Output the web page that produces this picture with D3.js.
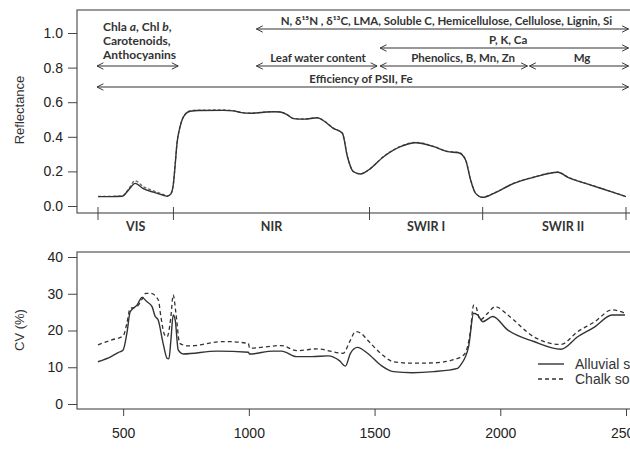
<!DOCTYPE html>
<html>
<head>
<meta charset="utf-8" />
<title>Reflectance and CV</title>
<script src="https://cdn.jsdelivr.net/npm/d3@7"></script>
<style>
	body { margin: 0; background: #fff; }
	svg { display: block; }
	.tick text { font-family: "Liberation Sans", Arial, sans-serif; font-size: 14px; fill: #222; }
	.tick line { stroke: #444; }
	.anno { font-family: Lato, "Open Sans", sans-serif; font-weight: bold; font-size: 11.5px; fill: #333; }
</style>
</head>
<body>
<svg id="chart" width="630" height="452"></svg>

<script>
/* data */
var reflWl = [400,450,496,520,548,580,620,660,675,690,700,707,714,725,735,750,767,800,900,938,970,1006,1060,1100,1125,1150,1177,1220,1272,1300,1336,1372,1392,1416,1444,1476,1536,1603,1663,1735,1790,1834,1862,1882,1902,1930,1974,2054,2133,2229,2269,2360,2440,2500];
var reflAlluvial = [0.054,0.054,0.056,0.09,0.131,0.10,0.08,0.062,0.056,0.07,0.13,0.24,0.36,0.45,0.50,0.535,0.548,0.552,0.553,0.550,0.54,0.536,0.542,0.545,0.543,0.53,0.505,0.502,0.51,0.49,0.449,0.42,0.285,0.198,0.185,0.208,0.285,0.343,0.366,0.343,0.314,0.308,0.266,0.15,0.073,0.05,0.073,0.131,0.166,0.195,0.166,0.121,0.083,0.054];
var reflChalk    = [0.056,0.056,0.058,0.095,0.146,0.112,0.088,0.066,0.058,0.072,0.13,0.24,0.36,0.45,0.50,0.537,0.550,0.554,0.555,0.551,0.541,0.537,0.543,0.546,0.544,0.531,0.506,0.503,0.511,0.491,0.45,0.421,0.286,0.199,0.186,0.209,0.287,0.345,0.368,0.345,0.316,0.31,0.268,0.152,0.074,0.051,0.074,0.132,0.167,0.196,0.167,0.122,0.084,0.055];

var cvWlAlluvial = [400,452,480,500,515,528,555,575,595,615,627,639,659,675,682,690,699,707,719,739,874,998,1002,1097,1130,1190,1250,1316,1360,1384,1404,1432,1472,1524,1575,1650,1735,1830,1842,1874,1894,1910,1930,1970,2030,2133,2241,2308,2376,2444,2496];
var cvAlluvial   = [11.5,12.9,14.0,14.7,19.3,25.1,26.9,29.0,27.8,26.5,23.9,22.9,16.5,12.4,12.3,17.4,24.2,22.9,14.7,13.6,14.4,14.1,13.6,14.4,14.4,12.9,12.9,13.1,11.8,10.3,13.8,15.4,13.8,10.6,8.8,8.5,8.8,9.7,10.6,15.6,24.7,24.2,22.4,23.8,20.1,17.0,14.9,18.3,21.0,24.2,24.2];
var cvWlChalk = [400,452,500,515,528,555,575,590,610,640,650,665,675,690,699,710,725,760,900,998,1003,1130,1190,1270,1375,1404,1424,1445,1472,1524,1575,1650,1735,1830,1860,1880,1894,1902,1920,1950,1980,2030,2133,2241,2308,2376,2444,2496];
var cvChalk   = [16.1,17.4,18.5,22,26.0,26.5,28.5,30.1,30.1,28.3,23.8,18.8,18.3,23.8,29.7,24.7,16.5,15.8,17.0,16.5,15.2,15.9,14.5,15.0,13.8,17.4,19.7,19.3,17.4,13.8,11.5,11.1,11.2,12.4,13.8,19.2,26.9,26.6,22.9,24.7,26.5,24.2,18.3,16.2,19.7,22.4,25.6,24.7];

var reflTicks = [0, 0.2, 0.4, 0.6, 0.8, 1.0];
var cvTicks   = [0, 10, 20, 30, 40];
var wlTicks   = [500, 1000, 1500, 2000, 2500];

var regionBounds = [400, 700, 1480, 1930, 2500];
var regionNames  = ["VIS", "NIR", "SWIR I", "SWIR II"];
var regionLabelAt = [550, 1090, 1705, 2250];

// annotation arrows (nm) and where their labels sit
var annoFrom  = [1030, 1522, 1030, 1522, 2116, 396];
var annoTo    = [2510, 2510, 1510, 2108, 2510, 2510];
var annoLabel = ["N, δ¹⁵N , δ¹³C, LMA, Soluble C, Hemicellulose, Cellulose, Lignin, Si", "P, K, Ca", "Leaf water content", "Phenolics, B, Mn, Zn", "Mg", "Efficiency of PSII, Fe"];
var annoLabelAt = [1786, 2031, 1275, 1852, 2325, 1446];
var pigmentFrom = 396, pigmentTo = 719;

var legendNames = ["Alluvial soil", "Chalk soil"];

/* layout */
var svg = d3.select("#chart");
var lineColor = "#333";

var x = d3.scaleLinear().domain([400, 2500]).range([98, 626]);
var yR = d3.scaleLinear().domain([0, 1]).range([206, 33]);
var yC = d3.scaleLinear().domain([0, 40]).range([404, 257]);

var defs = svg.append("defs");
defs.append("marker").attr("id", "headEnd")
	.attr("viewBox", "0 0 10 10").attr("refX", 9).attr("refY", 5)
	.attr("markerWidth", 8).attr("markerHeight", 8).attr("markerUnits", "userSpaceOnUse")
	.attr("orient", "auto")
	.append("path").attr("d", "M1,1 L9,5 L1,9").attr("fill", "none").attr("stroke", lineColor).attr("stroke-width", 1.2);
defs.append("marker").attr("id", "headStart")
	.attr("viewBox", "0 0 10 10").attr("refX", 1).attr("refY", 5)
	.attr("markerWidth", 8).attr("markerHeight", 8).attr("markerUnits", "userSpaceOnUse")
	.attr("orient", "auto")
	.append("path").attr("d", "M9,1 L1,5 L9,9").attr("fill", "none").attr("stroke", lineColor).attr("stroke-width", 1.2);

/* top panel */
var topPanel = svg.append("g");
topPanel.append("rect").attr("x", 77).attr("y", 10).attr("width", 600).attr("height", 203)
	.attr("fill", "none").attr("stroke", "#555").attr("stroke-width", 1.2);

topPanel.append("g").attr("transform", "translate(77,0)")
	.call(d3.axisLeft(yR).tickValues(reflTicks).tickFormat(d3.format(".1f")).tickSize(9).tickPadding(5))
	.call(function(g){ g.select(".domain").remove(); });

topPanel.append("text").attr("transform", "translate(24,110) rotate(-90)")
	.attr("text-anchor", "middle")
	.style("font-family", "Liberation Sans, Arial, sans-serif").style("font-size", "13px").style("fill", "#333")
	.text("Reflectance");

// region ticks and names
topPanel.selectAll(".rtick").data(regionBounds).enter().append("line")
	.attr("x1", function(d){ return x(d); }).attr("x2", function(d){ return x(d); })
	.attr("y1", 207).attr("y2", 220).attr("stroke", "#444");
topPanel.selectAll(".rname").data(regionNames).enter().append("text")
	.attr("class", "anno").style("font-size", "12.5px")
	.attr("x", function(d, i){ return x(regionLabelAt[i]); }).attr("y", 231)
	.attr("text-anchor", "middle").text(function(d){ return d; });

var line = d3.line().curve(d3.curveMonotoneX);

topPanel.append("path")
	.attr("d", line(reflWl.map(function(w, i){ return [x(w), yR(reflChalk[i])]; })))
	.attr("fill", "none").attr("stroke", "#666").attr("stroke-width", 1.3).attr("stroke-dasharray", "3,2");
topPanel.append("path")
	.attr("d", line(reflWl.map(function(w, i){ return [x(w), yR(reflAlluvial[i])]; })))
	.attr("fill", "none").attr("stroke", lineColor).attr("stroke-width", 1.4);

// annotations
var arrowY = [29, 48, 66, 66, 66, 87];
var labelY = [25, 44, 62, 62, 62, 83];
annoFrom.forEach(function(f, i) {
	topPanel.append("line")
		.attr("x1", x(f)).attr("x2", x(annoTo[i]))
		.attr("y1", arrowY[i]).attr("y2", arrowY[i])
		.attr("stroke", lineColor).attr("stroke-width", 1.1)
		.attr("marker-start", "url(#headStart)").attr("marker-end", "url(#headEnd)");
	topPanel.append("text").attr("class", "anno")
		.attr("x", x(annoLabelAt[i])).attr("y", labelY[i])
		.attr("text-anchor", "middle").text(annoLabel[i]);
});

topPanel.append("line")
	.attr("x1", x(pigmentFrom)).attr("x2", x(pigmentTo)).attr("y1", 66).attr("y2", 66)
	.attr("stroke", lineColor).attr("stroke-width", 1.1)
	.attr("marker-start", "url(#headStart)").attr("marker-end", "url(#headEnd)");
var pig = topPanel.append("text").attr("class", "anno").style("font-size", "12px").attr("x", 103).attr("y", 31);
pig.append("tspan").text("Chla ");
pig.append("tspan").style("font-style", "italic").text("a");
pig.append("tspan").text(", Chl ");
pig.append("tspan").style("font-style", "italic").text("b");
pig.append("tspan").text(",");
topPanel.append("text").attr("class", "anno").style("font-size", "12px").attr("x", 103).attr("y", 45).text("Carotenoids,");
topPanel.append("text").attr("class", "anno").style("font-size", "12px").attr("x", 103).attr("y", 59).text("Anthocyanins");

/* bottom panel */
var botPanel = svg.append("g");
botPanel.append("rect").attr("x", 77).attr("y", 252).attr("width", 600).attr("height", 157)
	.attr("fill", "none").attr("stroke", "#555").attr("stroke-width", 1.2);

botPanel.append("g").attr("transform", "translate(77,0)")
	.call(d3.axisLeft(yC).tickValues(cvTicks).tickSize(9).tickPadding(5))
	.call(function(g){ g.select(".domain").remove(); });

botPanel.append("g").attr("transform", "translate(0,409)")
	.call(d3.axisBottom(x).tickValues(wlTicks).tickFormat(d3.format("d")).tickSize(7).tickPadding(12))
	.call(function(g){ g.select(".domain").remove(); });

botPanel.append("text").attr("transform", "translate(24,330) rotate(-90)")
	.attr("text-anchor", "middle")
	.style("font-family", "Liberation Sans, Arial, sans-serif").style("font-size", "13px").style("fill", "#333")
	.text("CV (%)");

botPanel.append("path")
	.attr("d", line(cvWlChalk.map(function(w, i){ return [x(w), yC(cvChalk[i])]; })))
	.attr("fill", "none").attr("stroke", lineColor).attr("stroke-width", 1.3).attr("stroke-dasharray", "4,3");
botPanel.append("path")
	.attr("d", line(cvWlAlluvial.map(function(w, i){ return [x(w), yC(cvAlluvial[i])]; })))
	.attr("fill", "none").attr("stroke", lineColor).attr("stroke-width", 1.4);

// legend
var leg = botPanel.append("g").attr("transform", "translate(538,364)");
legendNames.forEach(function(name, i) {
	leg.append("line").attr("x1", 0).attr("x2", 26).attr("y1", i * 15).attr("y2", i * 15)
		.attr("stroke", lineColor).attr("stroke-width", 1.4)
		.attr("stroke-dasharray", i === 1 ? "4,3" : null);
	leg.append("text").attr("x", 37).attr("y", i * 15 + 5)
		.style("font-family", "Liberation Sans, Arial, sans-serif").style("font-size", "14px").style("fill", "#333")
		.text(name);
});
</script>
</body>
</html>
